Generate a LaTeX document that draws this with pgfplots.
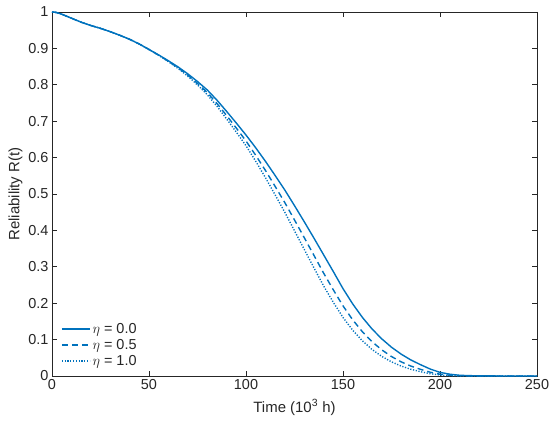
\documentclass[border=0pt]{standalone}
\usepackage{pgfplots}
\pgfplotsset{compat=1.18}
\usepackage{pgfplotstable}
\usepackage{fontspec}
\setmainfont{Liberation Sans}
\definecolor{mblue}{RGB}{0,114,189}
\definecolor{axgray}{RGB}{38,38,38}

\pgfplotstableread{
t R
0 1.000
2 0.999
5 0.994
10 0.983
15 0.972
20 0.963
25 0.955
30 0.946
35 0.936
40 0.925
45 0.912
50 0.897
55 0.882
60 0.866
65 0.849
70 0.830
75 0.809
80 0.786
85 0.758
90 0.727
95 0.695
100 0.662
105 0.627
110 0.590
115 0.551
120 0.511
125 0.468
130 0.424
135 0.379
140 0.333
145 0.287
150 0.240
155 0.198
160 0.161
165 0.129
170 0.102
175 0.079
180 0.060
185 0.044
190 0.031
195 0.019
200 0.010
205 0.005
210 0.002
215 0.001
220 0.0004
230 0.0001
240 0.0
250 0.0
}\solid

\pgfplotstableread{
t R
0 1.000
2 0.999
5 0.994
10 0.983
15 0.972
20 0.963
25 0.955
30 0.946
35 0.936
40 0.925
45 0.912
50 0.897
55 0.8814
60 0.8646
65 0.8467
70 0.8266
75 0.8039
80 0.7788
85 0.7488
90 0.7156
95 0.6812
100 0.6457
105 0.6064
110 0.5649
115 0.5211
120 0.4764
125 0.4287
130 0.3804
135 0.3317
140 0.2828
145 0.2368
150 0.1927
155 0.1543
160 0.1215
165 0.0941
170 0.0718
175 0.0534
180 0.0389
185 0.0272
190 0.0182
195 0.0103
200 0.0049
205 0.0022
210 0.0008
215 0.0003
220 0.0001
230 0.0
250 0.0
}\dashed

\pgfplotstableread{
t R
0 1.000
2 0.999
5 0.994
10 0.983
15 0.972
20 0.963
25 0.955
30 0.946
35 0.936
40 0.925
45 0.912
50 0.897
55 0.8809
60 0.8635
65 0.8448
70 0.8238
75 0.7996
80 0.7729
85 0.7414
90 0.7064
95 0.6702
100 0.6326
105 0.5901
110 0.5451
115 0.4979
120 0.4498
125 0.3990
130 0.3480
135 0.2974
140 0.2475
145 0.2024
150 0.1609
155 0.1258
160 0.0966
165 0.0727
170 0.0538
175 0.0388
180 0.0273
185 0.0184
190 0.0117
195 0.0063
200 0.0028
205 0.0011
210 0.0004
215 0.0001
220 0.0
250 0.0
}\dotted

\begin{document}
\begin{tikzpicture}
\useasboundingbox (-52bp,-52bp) rectangle (498bp,376bp);
\begin{axis}[
  at={(0,0)}, anchor=south west,
  scale only axis, width=485bp, height=364bp,
  xmin=0, xmax=250, ymin=0, ymax=1,
  xtick={0,50,100,150,200,250},
  ytick={0,0.1,0.2,0.3,0.4,0.5,0.6,0.7,0.8,0.9,1},
  yticklabels={0,0.1,0.2,0.3,0.4,0.5,0.6,0.7,0.8,0.9,1},
  xticklabels={0,50,100,150,200,250},
  tick align=inside,
  major tick length=5bp,
  axis line style={axgray, line width=0.7bp},
  every tick/.style={axgray, line width=0.7bp},
  tick label style={font=\fontsize{14.5}{16}\selectfont, text=axgray},
  /pgf/number format/assume math mode=true,
  xlabel={Time (10\textsuperscript{3} h)},
  ylabel={Reliability R(t)},
  label style={font=\fontsize{15}{17}\selectfont, text=axgray},
  xlabel style={yshift=-3bp},
  ylabel style={yshift=-1bp},
  legend cell align=left,
  legend style={draw=none, fill=none, at={(0,0)}, anchor=south west,
    xshift=8bp, yshift=6bp, inner sep=1bp,
    font=\fontsize{14.5}{16}\selectfont, text=axgray,
    row sep=0.5bp},
  legend image code/.code={\draw[#1] (0bp,0bp) -- (28bp,0bp);},
]
\addplot[mblue, line width=1.4bp] table[x=t,y=R] {\solid};
\addlegendentry{$\eta$ = 0.0}
\addplot[mblue, line width=1.4bp, dash pattern=on 6bp off 4bp] table[x=t,y=R] {\dashed};
\addlegendentry{$\eta$ = 0.5}
\addplot[mblue, line width=1.4bp, dash pattern=on 1.2bp off 1.6bp] table[x=t,y=R] {\dotted};
\addlegendentry{$\eta$ = 1.0}
\end{axis}
\end{tikzpicture}
\end{document}
